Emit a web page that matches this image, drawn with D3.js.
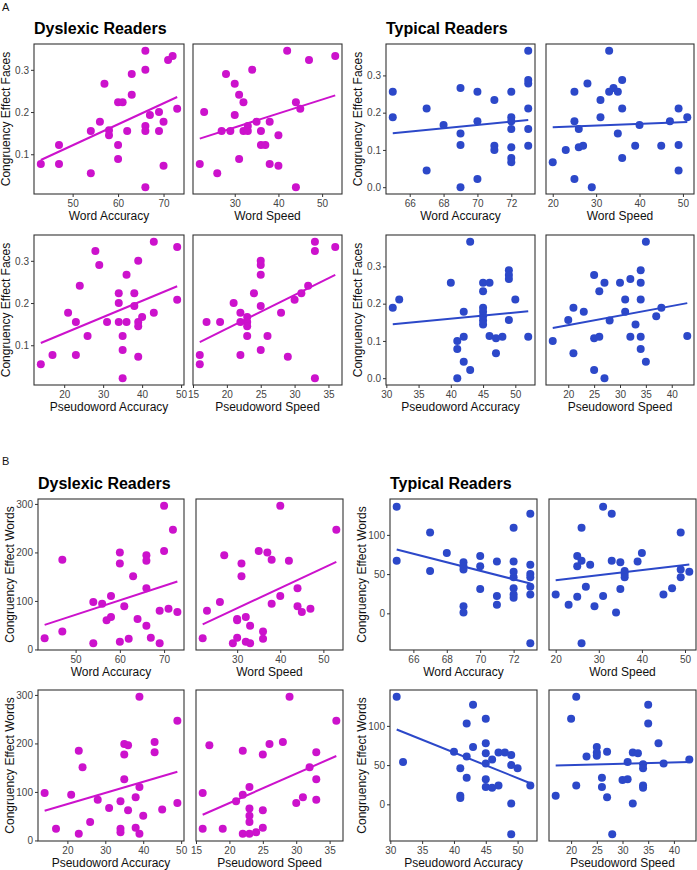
<!DOCTYPE html>
<html><head><meta charset="utf-8">
<script src="https://cdn.jsdelivr.net/npm/d3@7"></script>
<style>body{margin:0;background:#fff;} svg{display:block;font-family:"Liberation Sans",Arial,sans-serif;}</style>
</head><body><svg id="chart" width="697" height="870"></svg>
<script>
// ---------- DATA ([x, y] per participant) ----------
// A: Congruency Effect Faces — Dyslexic
const dysFacesWordAcc = [[43,0.077],[47,0.122],[47,0.077],[54,0.155],[54,0.055],[56,0.177],[57,0.267],[58,0.157],[58,0.145],[60,0.223],[61,0.223],[60,0.122],[60,0.089],[62,0.155],[63,0.29],[63,0.241],[66,0.345],[66,0.3],[66,0.167],[66,0.155],[66,0.022],[67,0.193],[69,0.2],[69,0.155],[70,0.177],[70,0.073],[71,0.323],[72,0.333],[73,0.208]];
const dysFacesWordSpd = [[22,0.077],[23,0.2],[26,0.055],[27,0.155],[28,0.29],[29,0.155],[30,0.267],[30,0.193],[31,0.241],[31,0.089],[32,0.223],[32,0.155],[33,0.167],[33,0.155],[34,0.3],[35,0.177],[36,0.155],[36,0.122],[37,0.122],[38,0.177],[38,0.077],[40,0.145],[40,0.073],[42,0.345],[44,0.223],[44,0.022],[45,0.208],[47,0.323],[53,0.333]];
const dysFacesPseuAcc = [[14,0.055],[17,0.077],[21,0.177],[23,0.155],[23,0.077],[24,0.241],[26,0.122],[28,0.323],[29,0.29],[31,0.155],[34,0.223],[34,0.2],[34,0.155],[35,0.122],[35,0.089],[35,0.022],[36,0.267],[36,0.155],[38,0.223],[38,0.193],[39,0.3],[39,0.155],[39,0.145],[39,0.073],[40,0.167],[43,0.345],[43,0.177],[49,0.333],[49,0.208]];
const dysFacesPseuSpd = [[16,0.077],[16,0.055],[17,0.155],[19,0.155],[21,0.2],[22,0.177],[22,0.155],[22,0.077],[23,0.167],[23,0.155],[23,0.145],[23,0.122],[24,0.223],[25,0.3],[25,0.29],[25,0.267],[25,0.193],[25,0.089],[26,0.122],[28,0.177],[29,0.073],[30,0.208],[31,0.223],[32,0.241],[33,0.345],[33,0.323],[33,0.022],[36,0.333]];
// A: Congruency Effect Faces — Typical
const typFacesWordAcc = [[65,0.256],[65,0.188],[67,0.211],[67,0.045],[68,0.167],[69,0.266],[69,0.144],[69,0.113],[69,0.0],[70,0.256],[70,0.177],[70,0.022],[71,0.234],[71,0.111],[71,0.1],[72,0.256],[72,0.188],[72,0.177],[72,0.156],[72,0.107],[72,0.078],[72,0.067],[73,0.366],[73,0.288],[73,0.278],[73,0.211],[73,0.156],[73,0.111]];
const typFacesWordSpd = [[20,0.067],[23,0.1],[25,0.256],[25,0.177],[25,0.022],[26,0.156],[26,0.107],[27,0.111],[28,0.278],[29,0.0],[31,0.234],[31,0.188],[33,0.366],[33,0.256],[34,0.266],[35,0.256],[35,0.144],[36,0.288],[36,0.211],[36,0.078],[39,0.111],[40,0.167],[45,0.111],[47,0.177],[49,0.211],[49,0.113],[49,0.045],[51,0.188]];
const typFacesPseuAcc = [[31,0.189],[32,0.211],[40,0.256],[41,0.1],[41,0.078],[41,0.0],[42,0.178],[42,0.111],[42,0.044],[43,0.366],[43,0.022],[45,0.256],[45,0.233],[45,0.189],[45,0.178],[45,0.166],[45,0.155],[45,0.144],[46,0.256],[46,0.113],[47,0.107],[47,0.067],[48,0.111],[49,0.29],[49,0.277],[49,0.266],[49,0.156],[50,0.211],[52,0.111]];
const typFacesPseuSpd = [[17,0.1],[20,0.156],[21,0.189],[21,0.067],[23,0.178],[25,0.277],[25,0.107],[25,0.022],[26,0.233],[26,0.111],[27,0.256],[27,0.0],[28,0.155],[30,0.256],[31,0.211],[31,0.178],[32,0.266],[32,0.111],[33,0.144],[34,0.29],[34,0.256],[34,0.211],[34,0.111],[34,0.078],[35,0.366],[35,0.044],[37,0.166],[38,0.189],[43,0.113]];
// B: Congruency Effect Words — Dyslexic
const dysWordsWordAcc = [[43,23],[47,185],[47,37],[54,98],[54,13],[56,94],[57,60],[58,67],[58,110],[60,200],[60,177],[60,16],[61,89],[62,22],[63,151],[64,63],[66,194],[66,183],[66,126],[66,49],[67,24],[69,13],[69,80],[70,296],[70,203],[71,84],[72,247],[73,77]];
const dysWordsWordSpd = [[22,23],[23,80],[26,98],[27,194],[29,13],[30,63],[30,60],[30,24],[31,177],[31,151],[32,67],[32,16],[33,49],[33,13],[35,203],[36,37],[36,22],[37,200],[38,185],[38,94],[40,296],[40,110],[42,183],[44,126],[44,89],[45,77],[47,84],[53,247]];
const dysWordsPseuAcc = [[14,98],[17,24],[21,94],[23,185],[23,14],[24,151],[26,38],[28,84],[31,67],[34,81],[34,24],[34,17],[35,199],[35,177],[35,126],[36,196],[36,62],[38,89],[38,26],[39,296],[39,110],[39,14],[40,51],[43,203],[43,182],[45,64],[49,247],[49,77]];
const dysWordsPseuSpd = [[16,98],[16,24],[17,196],[19,24],[21,81],[22,185],[22,94],[22,14],[23,110],[23,66],[23,51],[23,38],[23,14],[24,17],[25,177],[25,62],[25,26],[26,199],[28,203],[29,296],[30,77],[31,89],[32,151],[33,182],[33,126],[33,84],[36,247]];
// B: Congruency Effect Words — Typical
const typWordsWordAcc = [[65,136],[65,67],[67,103],[67,54],[68,77],[69,65],[69,60],[69,56],[69,9],[69,1],[70,73],[70,60],[70,31],[71,66],[71,22],[71,11],[72,109],[72,66],[72,53],[72,46],[72,32],[72,24],[72,20],[73,127],[73,62],[73,50],[73,46],[73,34],[73,24],[73,-38]];
const typWordsWordSpd = [[20,24],[23,11],[25,21],[25,73],[25,60],[26,109],[26,67],[26,-38],[27,34],[28,62],[29,9],[31,136],[31,22],[33,127],[33,67],[34,1],[35,65],[35,31],[36,54],[36,50],[36,46],[39,66],[40,77],[45,24],[47,32],[49,103],[49,56],[49,46],[51,53]];
const typWordsPseuAcc = [[31,137],[32,54],[40,67],[41,46],[41,11],[41,8],[42,103],[42,61],[42,34],[43,127],[43,73],[45,109],[45,78],[45,65],[45,52],[45,32],[45,22],[46,57],[46,21],[47,66],[47,24],[48,66],[49,63],[49,50],[49,1],[49,-38],[50,46],[52,24]];
const typWordsPseuSpd = [[17,11],[20,109],[21,137],[21,24],[23,61],[25,73],[25,66],[25,62],[26,34],[26,22],[27,67],[27,9],[28,-38],[30,31],[31,32],[31,54],[32,66],[32,1],[33,65],[34,51],[34,46],[34,24],[34,21],[35,127],[35,103],[37,78],[38,52],[43,57]];

// ---------- TICKS & LABELS ----------
const dysWordAccTicks = [50,60,70], dysWordSpdTicks = [30,40,50], dysPseuAccTicks = [20,30,40,50], dysPseuSpdTicks = [15,20,25,30,35];
const typWordAccTicks = [66,68,70,72], typWordSpdTicks = [20,30,40,50], typPseuAccTicks = [30,35,40,45,50], typPseuSpdTicks = [20,25,30,35,40];
const facesDysTicks = [0.1,0.2,0.3], facesTypTicks = [0.0,0.1,0.2,0.3];
const wordsDysTicks = [0,100,200,300], wordsTypTicks = [0,50,100];
const xLabels = ["Word Accuracy","Word Speed","Pseudoword Accuracy","Pseudoword Speed"];
const groupTitles = ["Dyslexic Readers","Typical Readers"];
const sectionLetters = ["A","B"];
const yLabelFaces = "Congruency Effect Faces", yLabelWords = "Congruency Effect Words";

const MAG = "#cc12cc", BLUE = "#2c48c9";
const svg = d3.select("#chart");
const expand = v => { const [a,b] = d3.extent(v); const p = (b-a)*0.05; return [a-p, b+p]; };

function drawPanel(box, data, xTicks, yDom, yTicks, yFmt, color, xLabel, yLabel) {
  const [l,t,r,b] = box;
  const x = d3.scaleLinear().domain(expand(data.map(d=>d[0]))).range([l,r]);
  const y = d3.scaleLinear().domain(yDom).range([b,t]);
  const g = svg.append("g");
  const ax = g.append("g").attr("transform",`translate(0,${b})`)
    .call(d3.axisBottom(x).tickValues(xTicks).tickSize(3).tickPadding(3));
  ax.select(".domain").remove();
  if (yLabel) {
    const ay = g.append("g").attr("transform",`translate(${l},0)`)
      .call(d3.axisLeft(y).tickValues(yTicks).tickFormat(yFmt).tickSize(3).tickPadding(2));
    ay.select(".domain").remove();
    g.append("text").attr("transform",`translate(${l-24},${(t+b)/2}) rotate(-90)`)
      .attr("text-anchor","middle").attr("font-size","12px").attr("fill","#111").text(yLabel);
  }
  g.selectAll(".tick line").attr("stroke","#333");
  g.selectAll(".tick text").attr("font-size","10px").attr("fill","#444").attr("font-family","Liberation Sans, Arial, sans-serif");
  g.selectAll("circle").data(data).join("circle")
    .attr("cx",d=>x(d[0])).attr("cy",d=>y(d[1])).attr("r",4).attr("fill",color);
  const mx = d3.mean(data,d=>d[0]), my = d3.mean(data,d=>d[1]);
  const sxy = d3.sum(data,d=>(d[0]-mx)*(d[1]-my)), sxx = d3.sum(data,d=>(d[0]-mx)**2);
  const slope = sxy/sxx, icpt = my - slope*mx;
  const [x0,x1] = d3.extent(data,d=>d[0]);
  g.append("line").attr("x1",x(x0)).attr("x2",x(x1)).attr("y1",y(icpt+slope*x0)).attr("y2",y(icpt+slope*x1))
    .attr("stroke",color).attr("stroke-width",2);
  g.append("rect").attr("x",l).attr("y",t).attr("width",r-l).attr("height",b-t)
    .attr("fill","none").attr("stroke","#333").attr("stroke-width",1.1);
  g.append("text").attr("x",(l+r)/2).attr("y",b+26).attr("text-anchor","middle")
    .attr("font-size","12px").attr("fill","#111").text(xLabel);
}

function drawGroup(cols, rows, panels, xTicks, yTicks, yFmt, color, yLabel, title) {
  const yDom = expand(panels.flat().map(d=>d[1]));
  svg.append("text").attr("x",cols[0][0]).attr("y",rows[0][0]-10).attr("font-size","16px")
    .attr("font-weight","bold").attr("fill","#000").text(title);
  panels.forEach((data,i) => {
    const c = cols[i%2], rw = rows[Math.floor(i/2)];
    drawPanel([c[0],rw[0],c[1],rw[1]], data, xTicks[i], yDom, yTicks, yFmt, color, xLabels[i], i%2===0 ? yLabel : null);
  });
}

const rowsA = [[44,194],[235,385]], rowsB = [[499,650],[690,841]];
drawGroup([[34,184],[193,342]], rowsA, [dysFacesWordAcc,dysFacesWordSpd,dysFacesPseuAcc,dysFacesPseuSpd],
  [dysWordAccTicks,dysWordSpdTicks,dysPseuAccTicks,dysPseuSpdTicks], facesDysTicks, d3.format(".1f"), MAG, yLabelFaces, groupTitles[0]);
drawGroup([[386,535],[546,694]], rowsA, [typFacesWordAcc,typFacesWordSpd,typFacesPseuAcc,typFacesPseuSpd],
  [typWordAccTicks,typWordSpdTicks,typPseuAccTicks,typPseuSpdTicks], facesTypTicks, d3.format(".1f"), BLUE, yLabelFaces, groupTitles[1]);
drawGroup([[38,184],[196,343]], rowsB, [dysWordsWordAcc,dysWordsWordSpd,dysWordsPseuAcc,dysWordsPseuSpd],
  [dysWordAccTicks,dysWordSpdTicks,dysPseuAccTicks,dysPseuSpdTicks], wordsDysTicks, d3.format("d"), MAG, yLabelWords, groupTitles[0]);
drawGroup([[390,537],[549,696]], rowsB, [typWordsWordAcc,typWordsWordSpd,typWordsPseuAcc,typWordsPseuSpd],
  [typWordAccTicks,typWordSpdTicks,typPseuAccTicks,typPseuSpdTicks], wordsTypTicks, d3.format("d"), BLUE, yLabelWords, groupTitles[1]);

svg.append("text").attr("x",2).attr("y",10.5).attr("font-size","11px").attr("fill","#111").text(sectionLetters[0]);
svg.append("text").attr("x",2).attr("y",465).attr("font-size","11px").attr("fill","#111").text(sectionLetters[1]);
</script></body></html>
